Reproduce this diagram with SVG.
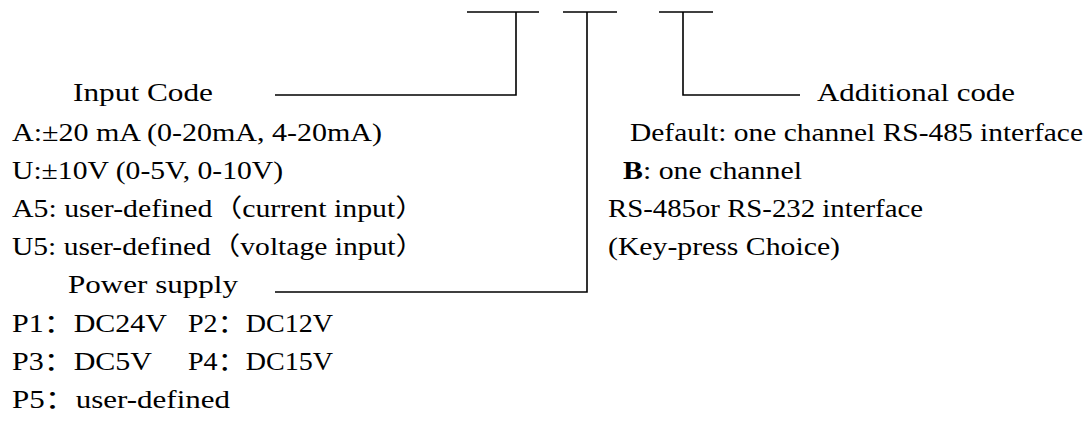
<svg xmlns="http://www.w3.org/2000/svg" width="1086" height="434" viewBox="0 0 1086 434">
<style>
text{font-family:"Liberation Serif","Noto Sans CJK SC",serif;font-size:25px;fill:#000}
.ln{stroke:#000;stroke-width:1.6;fill:none}
</style>
<rect width="1086" height="434" fill="#fff"/>
<g id="connectors">
<line class="ln" x1="467" y1="12" x2="539" y2="12"/>
<line class="ln" x1="563" y1="12" x2="617" y2="12"/>
<line class="ln" x1="659" y1="12" x2="713" y2="12"/>
<polyline class="ln" points="516,12 516,95 275,95"/>
<polyline class="ln" points="587,12 587,292 275,292"/>
<polyline class="ln" points="683,12 683,95 800,95"/>
</g>
<g id="input-code">
<text x="73" y="101" textLength="140" lengthAdjust="spacingAndGlyphs">Input Code</text>
<text x="12" y="141" textLength="370" lengthAdjust="spacingAndGlyphs">A:±20 mA (0-20mA, 4-20mA)</text>
<text x="12" y="179" textLength="271" lengthAdjust="spacingAndGlyphs">U:±10V (0-5V, 0-10V)</text>
<text x="12" y="217" textLength="413" lengthAdjust="spacingAndGlyphs">A5: user-defined（current input）</text>
<text x="12" y="255" textLength="413" lengthAdjust="spacingAndGlyphs">U5: user-defined（voltage input）</text>
</g>
<g id="power-supply">
<text x="68" y="293" textLength="170" lengthAdjust="spacingAndGlyphs">Power supply</text>
<text x="12" y="332" textLength="155" lengthAdjust="spacingAndGlyphs">P1：DC24V</text>
<text x="188" y="332" textLength="145" lengthAdjust="spacingAndGlyphs">P2：DC12V</text>
<text x="12" y="370" textLength="140" lengthAdjust="spacingAndGlyphs">P3：DC5V</text>
<text x="188" y="370" textLength="145" lengthAdjust="spacingAndGlyphs">P4：DC15V</text>
<text x="12" y="408" textLength="218" lengthAdjust="spacingAndGlyphs">P5：user-defined</text>
</g>
<g id="additional-code">
<text x="817" y="101" textLength="198" lengthAdjust="spacingAndGlyphs">Additional code</text>
<text x="630" y="141" textLength="453" lengthAdjust="spacingAndGlyphs">Default: one channel RS-485 interface</text>
<text x="623" y="179" textLength="179" lengthAdjust="spacingAndGlyphs"><tspan font-weight="bold">B</tspan>: one channel</text>
<text x="608" y="217" textLength="315" lengthAdjust="spacingAndGlyphs">RS-485or RS-232 interface</text>
<text x="608" y="255" textLength="232" lengthAdjust="spacingAndGlyphs">(Key-press Choice)</text>
</g>
</svg>
